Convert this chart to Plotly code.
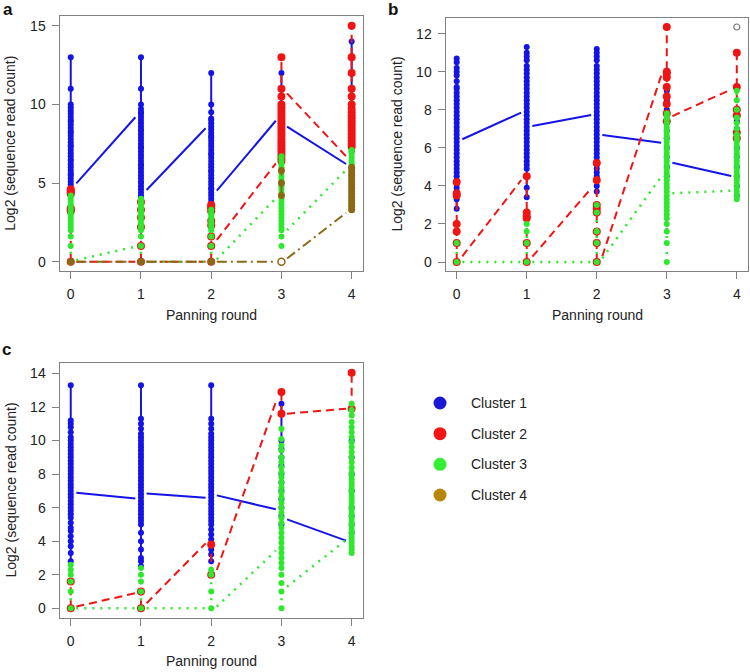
import plotly.graph_objects as go

ROUNDS = [0, 1, 2, 3, 4]
CLUSTERS = ["Cluster 1", "Cluster 2", "Cluster 3", "Cluster 4"]

# ---------- Panel a : strip values per round ----------
A_C1 = [
    [4.7, 4.9, 5.1, 5.3, 5.5, 5.6, 5.8, 6.0, 6.2, 6.4, 6.5, 6.7, 6.9, 7.1, 7.3, 7.4, 7.6, 7.8, 8.0, 8.2, 8.3, 8.5,
     8.7, 8.9, 9.0, 9.2, 9.4, 9.6, 9.8, 10.0, 11.0, 13.0],
    [4.0, 4.2, 4.4, 4.6, 4.8, 5.0, 5.1, 5.3, 5.5, 5.7, 5.9, 6.1, 6.2, 6.4, 6.6, 6.8, 7.0, 7.2, 7.3, 7.5, 7.7, 7.9,
     8.1, 8.3, 8.4, 8.6, 8.8, 9.0, 9.2, 9.4, 9.5, 9.7, 10.0, 11.0, 13.0],
    [3.8, 4.0, 4.2, 4.4, 4.6, 4.7, 4.9, 5.1, 5.3, 5.5, 5.7, 5.8, 6.0, 6.2, 6.4, 6.6, 6.8, 6.9, 7.1, 7.3, 7.5, 7.7,
     7.9, 8.0, 8.2, 8.4, 8.6, 8.8, 9.0, 9.1, 9.5, 10.0, 12.0],
    [6.6, 7.0, 7.5, 8.0, 8.5, 9.0, 12.0],
    [7.0, 8.0, 9.0, 14.0],
]
A_C2 = [
    [0.0, 3.2, 3.3, 3.4, 4.3, 4.4, 4.5, 4.6],
    [0.0, 1.0, 2.2, 2.8, 3.3, 3.8],
    [0.0, 1.0, 1.6, 2.3, 2.6, 3.2, 3.4, 3.5, 3.6],
    [6.4, 6.6, 6.8, 7.0, 7.2, 7.4, 7.6, 7.8, 8.0, 8.2, 8.4, 8.6, 8.8, 9.0, 9.2, 9.4, 9.6, 9.8, 10.0, 10.5, 11.0,
     13.0],
    [7.3, 7.5, 7.7, 7.9, 8.1, 8.3, 8.5, 8.7, 8.9, 9.1, 9.3, 9.5, 9.7, 10.0, 10.5, 11.0, 12.0, 13.0, 15.0],
]
A_C3 = [
    [0.0, 1.0, 1.6, 2.0, 2.2, 2.4, 2.6, 2.8, 3.0, 3.2, 3.4, 3.6, 3.8, 4.0, 4.2],
    [0.0, 1.0, 1.6, 2.0, 2.2, 2.4, 2.6, 2.8, 3.0, 3.2, 3.4, 3.6, 3.8, 4.0],
    [0.0, 1.0, 1.6, 2.0, 2.2, 2.4, 2.6, 2.8, 3.0, 3.1, 3.3],
    [1.0, 1.6, 2.0, 2.2, 2.4, 2.6, 2.8, 3.0, 3.2, 3.4, 3.6, 3.8, 4.0, 4.2, 4.4, 4.6, 4.8, 5.0, 5.2, 5.4, 5.6, 5.8,
     6.0, 6.2, 6.4, 6.6, 6.7],
    [6.0, 6.2, 6.4, 6.6, 6.8, 7.0, 7.1],
]
A_C4 = [
    [0.0],
    [0.0],
    [0.0],
    [4.2, 5.0, 5.8],
    [3.3, 3.5, 3.7, 3.9, 4.1, 4.3, 4.5, 4.7, 4.9, 5.1, 5.3, 5.5, 5.7, 5.9, 6.0],
]
A_OPEN_X = [3]
A_OPEN_Y = [0.0]

# segment values (start at round r, end at round r+1)
A_C1_START = [4.98, 4.56, 4.51, 8.58]
A_C1_END = [9.18, 8.48, 8.96, 6.21]
A_C2_START = [0.0, 0.0, 1.38, 10.7]
A_C2_END = [0.0, 0.0, 6.25, 6.7]
A_C3_START = [0.1, 0.0, 0.15, 2.0]
A_C3_END = [0.95, 0.0, 4.03, 5.83]
A_C4_START = [0.0, 0.0, 0.0, 0.2]
A_C4_END = [0.0, 0.0, 0.0, 3.1]

# ---------- Panel b ----------
B_C1 = [
    [2.8, 3.3, 3.5, 3.7, 3.9, 4.1, 4.3, 4.5, 4.7, 4.9, 5.1, 5.3, 5.5, 5.7, 5.9, 6.1, 6.3, 6.5, 6.7, 6.9, 7.1, 7.3,
     7.5, 7.7, 7.9, 8.1, 8.3, 8.5, 8.7, 8.9, 9.1, 9.2, 9.5, 9.8, 10.0, 10.2, 10.5, 10.7],
    [3.4, 3.9, 4.9, 5.1, 5.3, 5.5, 5.7, 5.9, 6.1, 6.3, 6.5, 6.7, 6.9, 7.1, 7.3, 7.5, 7.7, 7.9, 8.1, 8.3, 8.5, 8.7,
     8.9, 9.1, 9.3, 9.5, 9.7, 9.9, 10.1, 10.3, 10.6, 10.8, 11.0, 11.3],
    [3.7, 4.0, 4.5, 4.7, 4.9, 5.1, 5.3, 5.5, 5.7, 5.9, 6.1, 6.3, 6.5, 6.7, 6.9, 7.1, 7.3, 7.5, 7.7, 7.9, 8.1, 8.3,
     8.5, 8.7, 8.9, 9.1, 9.3, 9.5, 9.7, 9.9, 10.1, 10.3, 10.6, 10.8, 11.0, 11.2],
    [4.5, 5.0, 5.5, 6.0, 6.5, 6.9, 7.3, 7.7, 8.0, 8.5, 9.0, 9.2],
    [3.5, 4.0, 4.5, 5.0, 5.5, 6.0, 6.5, 7.0, 7.4],
]
B_C2 = [
    [0.0, 1.0, 1.6, 2.0, 3.5, 3.6, 4.2],
    [0.0, 1.0, 2.3, 2.4, 2.6, 4.5],
    [0.0, 1.0, 1.6, 2.6, 2.8, 3.0, 4.3, 5.2],
    [7.4, 7.8, 8.3, 8.7, 9.2, 9.7, 9.9, 10.0, 12.35],
    [6.5, 6.8, 7.7, 8.0, 9.2, 11.0],
]
B_C3 = [
    [0.0, 1.0],
    [0.0, 1.0, 1.6, 2.0],
    [0.0, 1.0, 1.6, 2.6, 3.0],
    [0.0, 1.0, 1.6, 2.0, 2.3, 2.5, 2.7, 2.9, 3.1, 3.3, 3.5, 3.7, 3.9, 4.1, 4.3, 4.5, 4.7, 4.9, 5.1, 5.3, 5.5, 5.7,
     5.9, 6.1, 6.3, 6.5, 6.7, 6.9, 7.1, 7.3, 7.5, 7.7, 7.8],
    [3.3, 3.5, 3.7, 3.9, 4.1, 4.3, 4.5, 4.7, 4.9, 5.1, 5.3, 5.5, 5.7, 5.9, 6.1, 6.3, 6.5, 6.7, 7.0, 7.3, 7.6, 8.0,
     8.5, 9.0],
]
B_OPEN_X = [4]
B_OPEN_Y = [12.35]

B_C1_START = [6.45, 7.15, 6.67, 5.22]
B_C1_END = [7.85, 7.72, 6.27, 4.52]
B_C2_START = [0.3, 0.28, 0.3, 7.67]
B_C2_END = [4.3, 3.87, 9.8, 9.07]
B_C3_START = [0.0, 0.0, 0.19, 3.61]
B_C3_END = [0.0, 0.0, 4.48, 3.75]

# ---------- Panel c ----------
C_C1 = [
    [2.8, 3.3, 3.7, 4.0, 4.3, 4.6, 4.8, 5.1, 5.4, 5.6, 5.8, 6.0, 6.2, 6.4, 6.6, 6.8, 7.0, 7.2, 7.4, 7.6, 7.8, 8.0,
     8.2, 8.4, 8.6, 8.8, 9.0, 9.2, 9.4, 9.6, 9.8, 10.0, 10.2, 10.5, 10.8, 11.0, 11.2, 13.3],
    [2.5, 2.8, 3.0, 3.5, 4.0, 4.5, 5.0, 5.2, 5.4, 5.6, 5.8, 6.0, 6.2, 6.4, 6.6, 6.8, 7.0, 7.2, 7.4, 7.6, 7.8, 8.0,
     8.2, 8.4, 8.6, 8.8, 9.0, 9.2, 9.4, 9.6, 9.8, 10.0, 10.2, 10.4, 10.7, 11.0, 11.3, 13.3],
    [2.8, 3.2, 3.5, 3.8, 4.1, 4.4, 4.7, 5.0, 5.2, 5.4, 5.6, 5.8, 6.0, 6.2, 6.4, 6.6, 6.8, 7.0, 7.2, 7.4, 7.6, 7.8,
     8.0, 8.2, 8.4, 8.6, 8.8, 9.0, 9.2, 9.4, 9.6, 9.8, 10.0, 10.2, 10.4, 10.7, 11.0, 11.3, 13.3],
    [5.0, 5.5, 6.0, 6.5, 7.0, 7.5, 8.0, 8.5, 9.0, 9.5, 10.0, 12.2],
    [4.5, 5.0, 5.5, 6.0, 7.0, 8.0, 9.0, 10.0],
]
C_C2 = [
    [0.0, 1.6],
    [0.0, 1.0],
    [2.0, 3.8],
    [11.6, 12.9],
    [11.9, 14.05],
]
C_C3 = [
    [0.0, 1.0, 1.6, 2.0, 2.3, 2.6],
    [0.0, 1.0, 1.6, 2.0, 2.4],
    [0.0, 1.0, 2.0, 2.3],
    [0.0, 1.0, 1.5, 2.0, 2.4, 2.7, 3.0, 3.3, 3.6, 3.9, 4.2, 4.5, 4.8, 5.1, 5.4, 5.7, 6.0, 6.3, 6.6, 6.9, 7.2, 7.5,
     7.8, 8.1, 8.4, 8.7, 9.0, 9.4, 9.7, 10.1, 10.7],
    [3.3, 3.5, 3.7, 3.9, 4.1, 4.3, 4.5, 4.7, 4.9, 5.1, 5.3, 5.5, 5.7, 5.9, 6.1, 6.3, 6.5, 6.7, 6.9, 7.1, 7.3, 7.5,
     7.7, 7.9, 8.1, 8.4, 8.7, 9.0, 9.3, 9.6, 9.9, 10.2, 10.5, 10.8, 11.1, 11.5, 11.8, 12.2],
]

C_C1_START = [6.89, 6.85, 6.73, 5.3]
C_C1_END = [6.55, 6.59, 5.9, 4.03]
C_C2_START = [0.1, 0.3, 2.28, 11.6]
C_C2_END = [0.9, 3.87, 12.3, 11.9]
C_C3_START = [0.0, 0.0, 0.1, 1.29]
C_C3_END = [0.0, 0.0, 3.43, 4.07]

A_YTICKS = [0, 5, 10, 15]
B_YTICKS = [0, 2, 4, 6, 8, 10, 12]
C_YTICKS = [0, 2, 4, 6, 8, 10, 12, 14]

# ---------- styles ----------
COL = ["#1414e6", "#f01414", "#2ee82e", "#8b6914"]
LEG_COL = ["#1a1ad6", "#f01414", "#33ee33", "#b8860b"]
DASH = ["solid", "8px,5px", "2px,6px", "10px,4px,2px,4px"]
MSIZE = [6, 8, 6, 7]
LW = [2, 2, 2.5, 2]
GAP = 0.08

FONT = "Liberation Sans, Arial, Helvetica, sans-serif"

fig = go.Figure()


def add_panel(xa, ya, strips, segs):
    for ci, (strip, seg) in enumerate(zip(strips, segs)):
        for r, vals in zip(ROUNDS, strip):
            ys = sorted(vals)
            fig.add_trace(go.Scatter(
                x=[r] * len(ys), y=ys, xaxis=xa, yaxis=ya,
                mode="lines+markers",
                line=dict(color=COL[ci], width=LW[ci], dash=DASH[ci]),
                marker=dict(color=COL[ci], size=MSIZE[ci], line=dict(width=0)),
                showlegend=False, hoverinfo="skip"))
        starts, ends = seg
        for r, s, e in zip(ROUNDS[:-1], starts, ends):
            fig.add_trace(go.Scatter(
                x=[r + GAP, r + 1 - GAP], y=[s, e], xaxis=xa, yaxis=ya,
                mode="lines",
                line=dict(color=COL[ci], width=LW[ci], dash=DASH[ci]),
                showlegend=False, hoverinfo="skip"))


add_panel("x", "y", [A_C1, A_C2, A_C3, A_C4],
          [(A_C1_START, A_C1_END), (A_C2_START, A_C2_END),
           (A_C3_START, A_C3_END), (A_C4_START, A_C4_END)])
fig.add_trace(go.Scatter(x=A_OPEN_X, y=A_OPEN_Y, xaxis="x", yaxis="y", mode="markers",
                         marker=dict(color="white", size=7, line=dict(color=COL[3], width=1.5)),
                         showlegend=False, hoverinfo="skip"))

add_panel("x2", "y2", [B_C1, B_C2, B_C3],
          [(B_C1_START, B_C1_END), (B_C2_START, B_C2_END), (B_C3_START, B_C3_END)])
fig.add_trace(go.Scatter(x=B_OPEN_X, y=B_OPEN_Y, xaxis="x2", yaxis="y2", mode="markers",
                         marker=dict(color="white", size=6, line=dict(color="#777777", width=1.2)),
                         showlegend=False, hoverinfo="skip"))

add_panel("x3", "y3", [C_C1, C_C2, C_C3],
          [(C_C1_START, C_C1_END), (C_C2_START, C_C2_END), (C_C3_START, C_C3_END)])

# legend drawn on a hidden axis
LEG_POS = [0, 1, 2, 3]
fig.add_trace(go.Scatter(x=[0] * 4, y=LEG_POS, xaxis="x4", yaxis="y4", mode="markers",
                         marker=dict(color=LEG_COL, size=13, line=dict(width=0)),
                         showlegend=False, hoverinfo="skip"))

W, H = 750, 672


def px_x(a, b):
    return [a / W, b / W]


def px_y(top, bottom):
    return [1 - bottom / H, 1 - top / H]


axis_common = dict(
    showline=True, mirror=True, linecolor="#808080", linewidth=1,
    ticks="outside", ticklen=7, tickcolor="#808080", tickwidth=1,
    showgrid=False, zeroline=False,
    tickfont=dict(family=FONT, size=14, color="#222222"),
    ticklabelstandoff=3,
)

xcommon = dict(axis_common, tickvals=ROUNDS, range=[-0.16, 4.16])

fig.update_layout(
    width=W, height=H, margin=dict(l=0, r=0, t=0, b=0),
    paper_bgcolor="white", plot_bgcolor="white",
    showlegend=False,
    xaxis=dict(xcommon, domain=px_x(59.5, 362.9), anchor="y"),
    yaxis=dict(axis_common, domain=px_y(16.3, 271.1), anchor="x",
               tickvals=A_YTICKS, range=[-0.6, 15.6]),
    xaxis2=dict(xcommon, domain=px_x(445.5, 748.0), anchor="y2"),
    yaxis2=dict(axis_common, domain=px_y(17.6, 271.4), anchor="x2",
                tickvals=B_YTICKS, range=[-0.494, 12.844]),
    xaxis3=dict(xcommon, domain=px_x(59.5, 362.9), anchor="y3"),
    yaxis3=dict(axis_common, domain=px_y(363.2, 617.7), anchor="x3",
                tickvals=C_YTICKS, range=[-0.562, 14.612]),
    xaxis4=dict(domain=px_x(430, 530), range=[-0.1, 0.9], visible=False, anchor="y4"),
    yaxis4=dict(domain=px_y(390, 510), range=[3.489, -0.424], visible=False, anchor="x4"),
)

ann = []
for i, name in enumerate(CLUSTERS):
    ann.append(dict(x=0.29, y=LEG_POS[i], xref="x4", yref="y4", text=name,
                    showarrow=False, xanchor="left", yanchor="middle",
                    font=dict(family=FONT, size=14, color="#222222")))

for x, y, t in [(211 / W, 1 - 315 / H, "Panning round"),
                (597 / W, 1 - 315 / H, "Panning round"),
                (211 / W, 1 - 661 / H, "Panning round")]:
    ann.append(dict(x=x, y=y, xref="paper", yref="paper", text=t, showarrow=False,
                    xanchor="center", yanchor="middle",
                    font=dict(family=FONT, size=14, color="#222222")))

for x, y in [(10 / W, 1 - 143.7 / H), (397 / W, 1 - 144.5 / H), (10 / W, 1 - 490.5 / H)]:
    ann.append(dict(x=x, y=y, xref="paper", yref="paper", text="Log2 (sequence read count)",
                    showarrow=False, textangle=-90, xanchor="center", yanchor="middle",
                    font=dict(family=FONT, size=14, color="#222222")))

for x, y, t in [(8.3, 10, "a"), (392.5, 10, "b"), (6.7, 349, "c")]:
    ann.append(dict(x=x / W, y=1 - y / H, xref="paper", yref="paper", text="<b>%s</b>" % t,
                    showarrow=False, xanchor="center", yanchor="middle",
                    font=dict(family=FONT, size=17, color="#111111")))

fig.update_layout(annotations=ann)

fig.write_html("out.html", config={"displayModeBar": False},
               post_script="document.body.style.margin='0px';document.body.style.padding='0px';")
